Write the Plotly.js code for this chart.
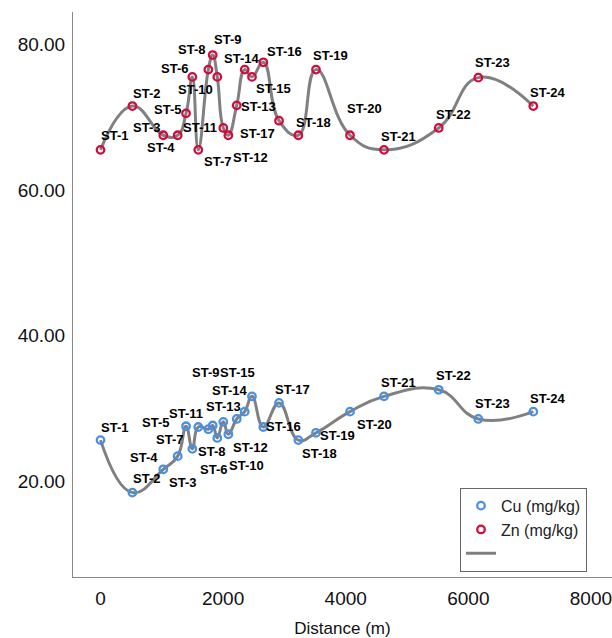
<!DOCTYPE html>
<html>
<head>
<meta charset="utf-8">
<script src="https://cdn.plot.ly/plotly-3.0.1.min.js"></script>
<style>html,body{margin:0;padding:0;background:#fff;}#chart{width:612px;height:638px;}</style>
</head>
<body>
<div id="chart"></div>
<script>
// Station labels
const stations = ["ST-1","ST-2","ST-3","ST-4","ST-5","ST-6","ST-7","ST-8","ST-9","ST-10","ST-11","ST-12",
  "ST-13","ST-14","ST-15","ST-16","ST-17","ST-18","ST-19","ST-20","ST-21","ST-22","ST-23","ST-24"];
// Distance (m)
const distance = [0, 520, 1024, 1259, 1395, 1498, 1595, 1759, 1830, 1905, 2003, 2085,
  2222, 2352, 2471, 2656, 2912, 3227, 3515, 4070, 4625, 5517, 6163, 7060];
// Cu (mg/kg)
const cu = [25.7, 18.5, 21.7, 23.5, 27.6, 24.5, 27.5, 27.2, 27.7, 26.0, 28.2, 26.5,
  28.6, 29.6, 31.7, 27.5, 30.8, 25.7, 26.7, 29.6, 31.7, 32.6, 28.6, 29.6];
// Zn (mg/kg)
const zn = [65.5, 71.5, 67.5, 67.5, 70.5, 75.5, 65.5, 76.5, 78.5, 75.5, 68.5, 67.5,
  71.6, 76.5, 75.5, 77.5, 69.5, 67.5, 76.5, 67.5, 65.5, 68.5, 75.4, 71.5];
// Axis ticks
const xTicks = [0, 2000, 4000, 6000, 8000];
const yTicks = [20, 40, 60, 80];

// label pixel offsets (dx right, dy down) -- styling only
const znLabelOffset = [[14,-14],[14,-13],[-17,-8],[-17,12],[-19,-4],[-18,-8],[19,12],[-17,-20],[15,-16],[-22,13],[-23,0],[22,22],
  [22,1],[-3,-11],[22,12],[21,-11],[-22,13],[15,-13],[15,-14],[14,-27],[14,-13],[15,-13],[14,-15],[14,-14]];
const cuLabelOffset = [[14,-13],[14,-14],[19,13],[-34,1],[-31,-4],[21,21],[-29,13],[3,22],[-7,-53],[29,28],[-37,-8],[22,13],
  [-13,-12],[-15,-21],[-14,-24],[20,0],[13,-13],[21,13],[22,3],[24,13],[14,-14],[15,-14],[14,-15],[14,-13]];

const FONT = "Liberation Sans, Arial, Helvetica, sans-serif";
const lineColor = "#808080";
const cuColor = "#4a8fe0";
const znColor = "#d40a3c";

const traces = [
  {x: distance, y: cu, mode: "lines", line: {shape: "spline", smoothing: 1.3, color: lineColor, width: 3},
   showlegend: true, name: " ", legendrank: 3, hoverinfo: "skip"},
  {x: distance, y: zn, mode: "lines", line: {shape: "spline", smoothing: 1.3, color: lineColor, width: 3},
   showlegend: false, hoverinfo: "skip"},
  {x: distance, y: cu, mode: "markers", name: "Cu (mg/kg)", legendrank: 1,
   marker: {symbol: "circle-open", size: 7.5, color: cuColor, line: {width: 2.3, color: cuColor}}},
  {x: distance, y: zn, mode: "markers", name: "Zn (mg/kg)", legendrank: 2,
   marker: {symbol: "circle-open", size: 7.5, color: znColor, line: {width: 2.3, color: znColor}}}
];

const annotations = [];
stations.forEach((s, i) => {
  annotations.push({x: distance[i], y: zn[i], xref: "x", yref: "y", text: "<b>" + s + "</b>", showarrow: false,
    xshift: znLabelOffset[i][0], yshift: -znLabelOffset[i][1], font: {family: FONT, size: 13, color: "#000"}});
  annotations.push({x: distance[i], y: cu[i], xref: "x", yref: "y", text: "<b>" + s + "</b>", showarrow: false,
    xshift: cuLabelOffset[i][0], yshift: -cuLabelOffset[i][1], font: {family: FONT, size: 13, color: "#000"}});
});

const layout = {
  width: 612, height: 638,
  margin: {l: 73, r: 0, t: 12, b: 61},
  paper_bgcolor: "#fff", plot_bgcolor: "#fff",
  font: {family: FONT, color: "#000"},
  xaxis: {
    range: [-449, 8344], tickvals: xTicks, ticktext: xTicks.map(String),
    showline: true, linecolor: "#888", linewidth: 1, showgrid: false, zeroline: false,
    ticks: "", ticklabelstandoff: 4, ticklabeloverflow: "allow",
    tickfont: {family: FONT, size: 19, color: "#111"},
    title: {text: "Distance (m)", font: {family: FONT, size: 17, color: "#111"}, standoff: 14},
    automargin: false
  },
  yaxis: {
    range: [6.93, 84.4], tickvals: yTicks, ticktext: yTicks.map(v => v.toFixed(2)),
    showline: true, linecolor: "#888", linewidth: 1, showgrid: false, zeroline: false,
    ticks: "", ticklabelstandoff: 3, tickfont: {family: FONT, size: 19, color: "#111"},
    automargin: false
  },
  legend: {
    x: 0.718, y: 0.158, xanchor: "left", yanchor: "top",
    bordercolor: "#666", borderwidth: 1, bgcolor: "#fff",
    font: {family: FONT, size: 16, color: "#222"}, tracegroupgap: 0
  },
  annotations: annotations
};

Plotly.newPlot("chart", traces, layout, {displayModeBar: false, staticPlot: true});
</script>
</body>
</html>
